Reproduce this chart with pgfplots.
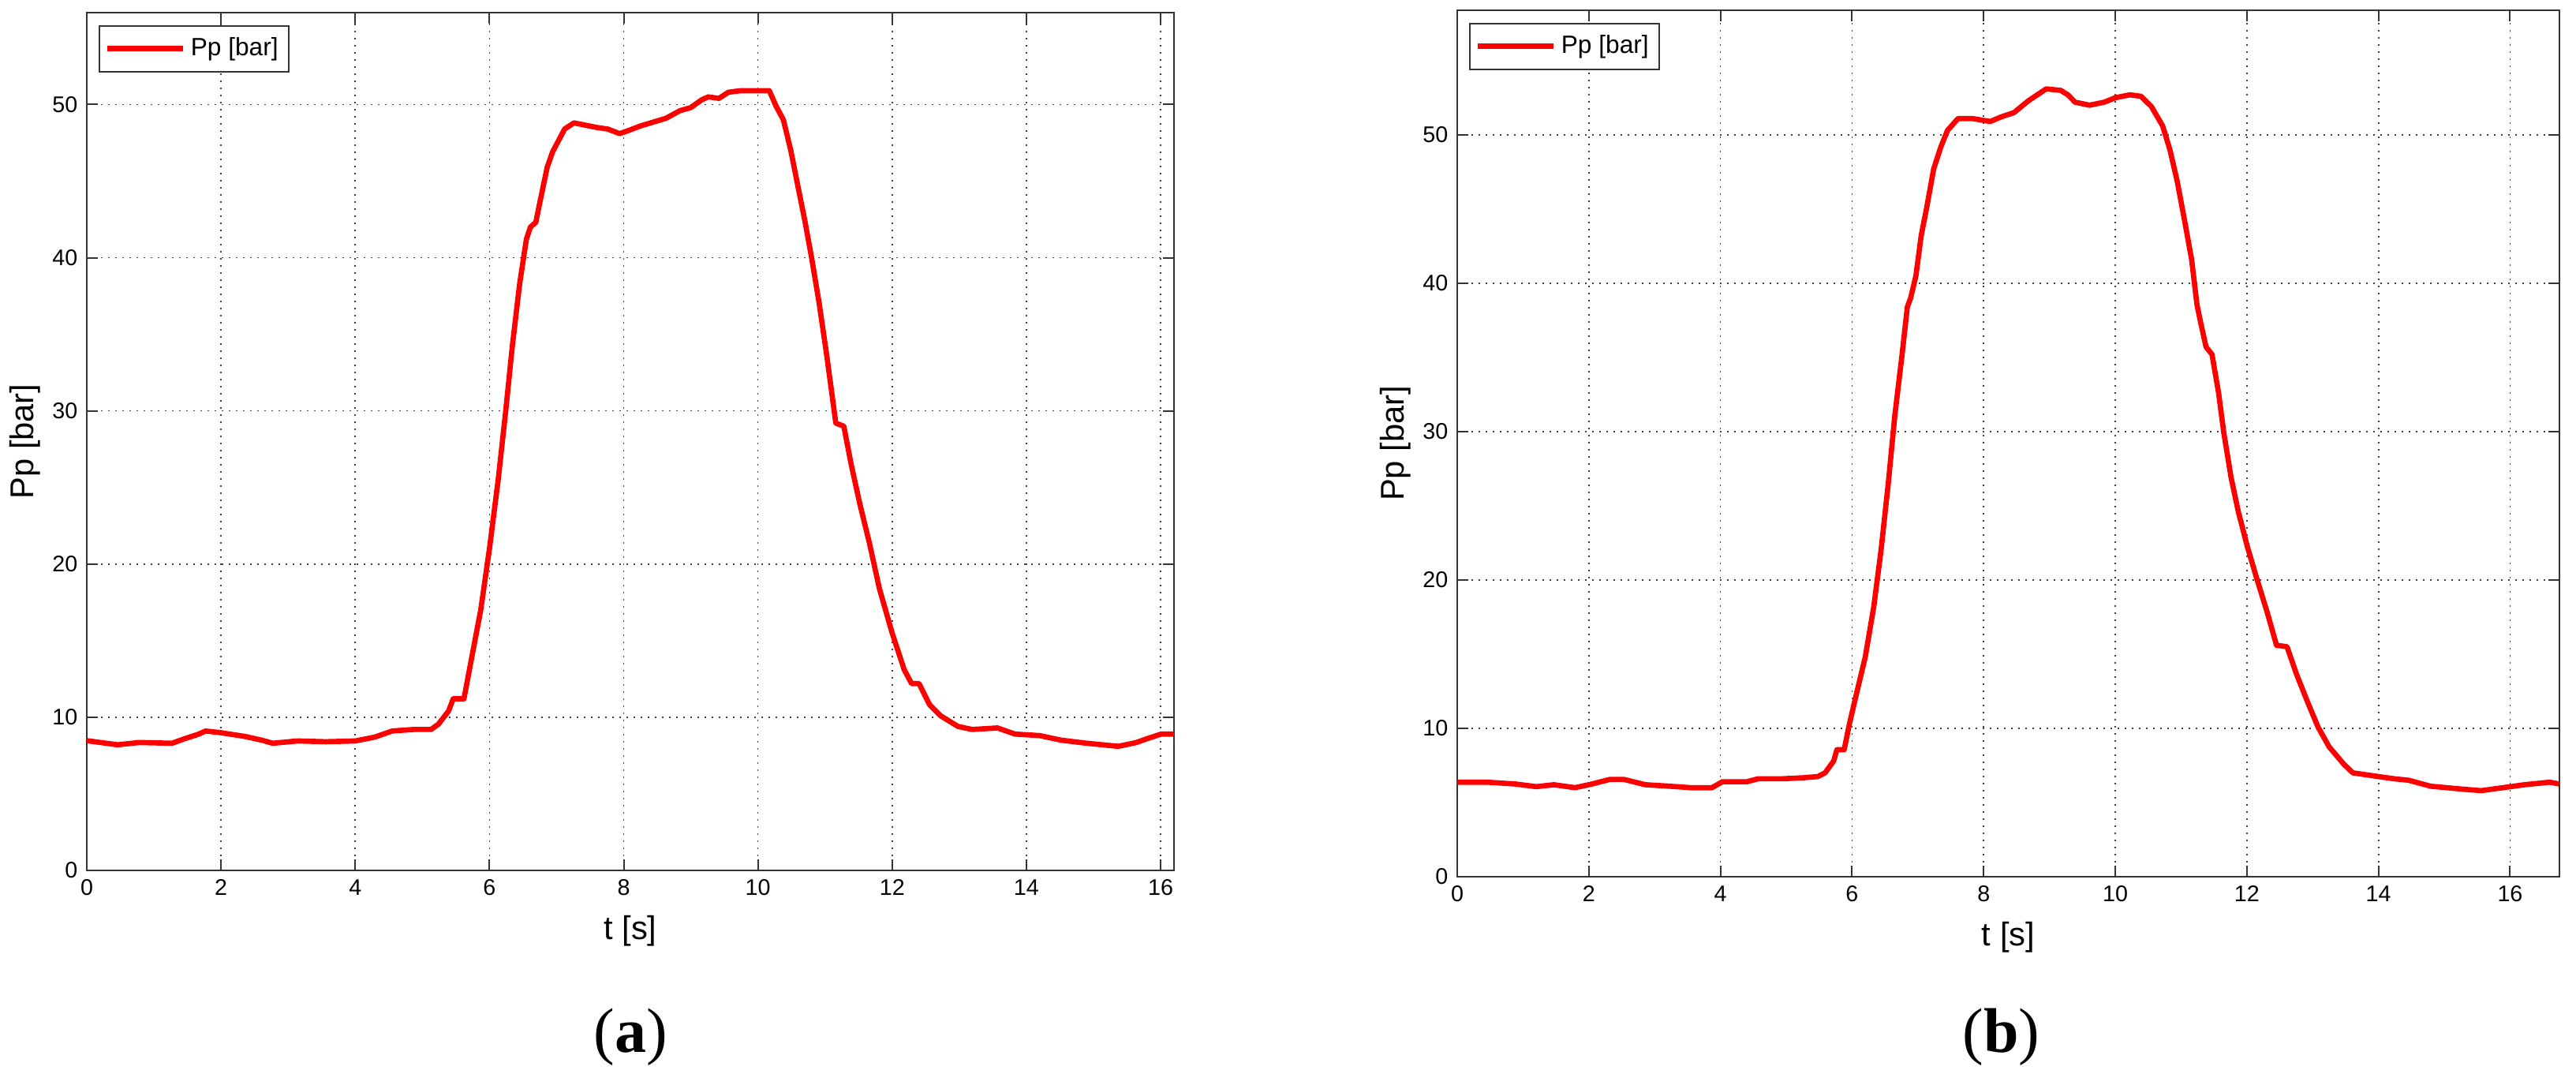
\documentclass[border=0pt]{standalone}
\usepackage{pgfplots}
\pgfplotsset{compat=1.18}
\usepackage{fontspec}
\setmainfont{Liberation Sans}
\newfontfamily\capfont{Liberation Serif}

\pgfplotsset{
  matlab/.style={
    scale only axis,
    axis line style={black!80, line width=0.6pt},
    tick style={black!80, line width=0.6pt},
    major tick length=4.2pt,
    grid=major,
    major grid style={black!75, line width=0.5pt, dash pattern=on 0.5pt off 2.2pt},
    xtick={0,2,...,16},
    ytick={0,10,...,50},
    xmin=0,
    ymin=0,
    /pgf/number format/assume math mode=true,
    ticklabel style={font=\fontsize{8.6}{10}\selectfont},
    label style={font=\fontsize{12.5}{14}\selectfont},
    xlabel={t [s]},
    ylabel={Pp [bar]},
    xlabel style={at={(axis description cs:0.5,0)}, anchor=center, yshift=-23pt},
    % ylabel is rotated by 90, so its yshift points to the left
    ylabel style={at={(axis description cs:0,0.5)}, anchor=center, yshift=23.5pt},
    legend style={at={(axis description cs:0,1)}, anchor=north west,
      xshift=4.5pt, yshift=-4.8pt, draw=black!80, line width=0.5pt,
      font=\fontsize{9.5}{11}\selectfont, inner xsep=2pt, inner ysep=2.5pt},
    legend image code/.code={\draw[#1] (0pt,0pt) -- (28.8pt,0pt);},
  },
  pp/.style={red, line width=2pt, line join=round, no marks},
}

\begin{document}
\begin{tikzpicture}
  \path[use as bounding box] (0,0) rectangle (979.5pt,408.3pt);

  % (a)
  \begin{axis}[matlab, at={(33pt,77.4pt)}, anchor=south west,
      width=413.4pt, height=326.1pt, xmax=16.2, ymax=56]
    \addplot[pp] coordinates {
      (0,8.47) (0.46,8.2) (0.78,8.35) (1.27,8.3) (1.46,8.6) (1.67,8.9)
      (1.77,9.1) (1.98,9.0) (2.35,8.75) (2.61,8.5) (2.77,8.3) (3.14,8.45)
      (3.56,8.4) (4.0,8.45) (4.29,8.7) (4.55,9.1) (4.87,9.2) (5.13,9.2)
      (5.24,9.55) (5.39,10.4) (5.46,11.2) (5.62,11.2) (5.71,13.3) (5.87,17)
      (6.0,21) (6.13,25.5) (6.24,29.9) (6.34,34.2) (6.45,38.3) (6.55,41.2)
      (6.61,42) (6.69,42.3) (6.76,43.8) (6.86,45.9) (6.94,46.9) (7.12,48.4)
      (7.26,48.8) (7.6,48.5) (7.76,48.4) (7.94,48.1) (8.07,48.3) (8.25,48.6)
      (8.63,49.1) (8.84,49.6) (9.0,49.8) (9.16,50.3) (9.26,50.5) (9.42,50.4)
      (9.56,50.8) (9.74,50.9) (10.17,50.9) (10.27,49.9) (10.38,49.0)
      (10.49,47.0) (10.59,44.8) (10.7,42.4) (10.8,40.0) (10.91,37.1)
      (11.02,33.8) (11.1,31.2) (11.16,29.2) (11.28,29.0) (11.39,26.5)
      (11.52,23.9) (11.66,21.4) (11.81,18.4) (12.0,15.5) (12.18,13.1)
      (12.29,12.2) (12.4,12.2) (12.56,10.8) (12.72,10.1) (12.98,9.4)
      (13.19,9.2) (13.57,9.3) (13.83,8.9) (14.2,8.8) (14.52,8.5) (14.9,8.3)
      (15.37,8.1) (15.64,8.35) (15.8,8.6) (16.01,8.9) (16.2,8.9)
    };
    \legend{Pp [bar]}
  \end{axis}

  % (b)
  \begin{axis}[matlab, at={(554.1pt,75pt)}, anchor=south west,
      width=419.1pt, height=329.4pt, xmax=16.75, ymax=58.4]
    \addplot[pp] coordinates {
      (0,6.37) (0.45,6.37) (0.88,6.25) (1.2,6.07) (1.47,6.2) (1.79,6.0)
      (2.05,6.25) (2.32,6.56) (2.53,6.56) (2.86,6.2) (3.23,6.1) (3.55,6.0)
      (3.87,6.0) (4.03,6.4) (4.4,6.4) (4.57,6.6) (4.94,6.6) (5.26,6.67)
      (5.48,6.75) (5.59,7.0) (5.72,7.8) (5.77,8.56) (5.88,8.56) (5.96,10.3)
      (6.06,12.2) (6.2,14.8) (6.33,18.2) (6.44,22.0) (6.55,26.5) (6.65,31.1)
      (6.76,35.2) (6.84,38.4) (6.89,39.0) (6.97,40.5) (7.05,43.2) (7.13,45.0)
      (7.24,47.7) (7.35,49.2) (7.45,50.3) (7.61,51.1) (7.83,51.1) (8.1,50.9)
      (8.26,51.2) (8.46,51.5) (8.68,52.3) (8.95,53.1) (9.17,53.0) (9.28,52.7)
      (9.39,52.2) (9.61,52.0) (9.83,52.2) (10.0,52.5) (10.22,52.7)
      (10.39,52.6) (10.55,51.9) (10.72,50.6) (10.83,49.0) (10.94,46.9)
      (11.05,44.3) (11.16,41.6) (11.24,38.6) (11.29,37.5) (11.38,35.7)
      (11.47,35.2) (11.57,32.6) (11.65,29.9) (11.76,26.9) (11.87,24.6)
      (12.01,22.2) (12.15,20.1) (12.31,17.8) (12.45,15.6) (12.61,15.5)
      (12.75,13.7) (12.92,11.8) (13.08,10.1) (13.25,8.75) (13.47,7.6)
      (13.61,7.0) (14.0,6.75) (14.24,6.6) (14.46,6.5) (14.79,6.1) (15.28,5.9)
      (15.56,5.8) (15.89,6.0) (16.22,6.2) (16.6,6.37) (16.75,6.25)
    };
    \legend{Pp [bar]}
  \end{axis}

  % sub-figure captions
  \node[font=\capfont\fontsize{24}{28}\selectfont] at (239.7pt,14.1pt) {(\textbf{a})};
  \node[font=\capfont\fontsize{24}{28}\selectfont] at (761pt,14.1pt) {(\textbf{b})};
\end{tikzpicture}
\end{document}
